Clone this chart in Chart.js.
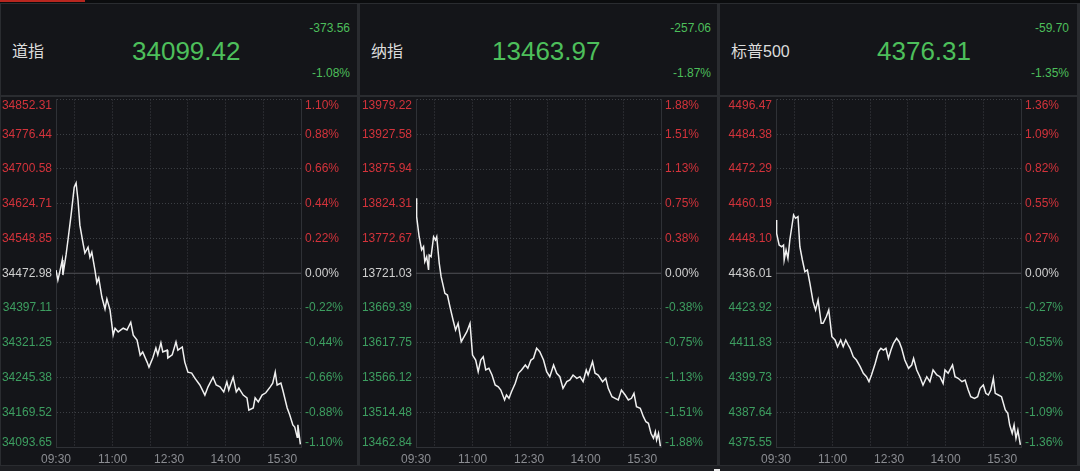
<!DOCTYPE html>
<html>
<head>
<meta charset="utf-8">
<script src="https://cdn.jsdelivr.net/npm/chart.js@4.4.0/dist/chart.umd.min.js"></script>
<style>
body { margin:0; width:1080px; height:471px; overflow:hidden; position:relative; background:#2a2c30;
       font-family:"Liberation Sans", Arial, "Noto Sans CJK SC", sans-serif; }
.strip { position:absolute; left:0; top:0; width:1080px; height:3px; background:#0b0c0e; }
.redbar { position:absolute; left:0; top:0; width:85px; height:2px; background:#b8261f; }
.bottom { position:absolute; left:0; top:466px; width:1080px; height:5px; background:#1d1e22; }
.mark { position:absolute; left:714px; top:469px; width:6px; height:2px; background:#e8e8e8; }
.box { position:absolute; background:#141519; }
.txt { position:absolute; white-space:nowrap; line-height:1; transform:translateY(-50%); }
.name { font-size:16px; color:#dcdcdc; font-family:"Liberation Sans", "Noto Sans CJK SC", sans-serif; }
.big { font-size:26px; color:#4dbf5b; }
.small { font-size:12px; color:#4dbf5b; text-align:right; }
canvas { position:absolute; }
</style>
</head>
<body>
<div class="strip"></div><div class="redbar"></div>
<div class="bottom"></div><div class="mark"></div>

<div class="box" style="left:1px;top:4px;width:356px;height:91px"></div>
<div class="box" style="left:360px;top:4px;width:357px;height:91px"></div>
<div class="box" style="left:720px;top:4px;width:357px;height:91px"></div>
<div class="box" style="left:1px;top:97px;width:356px;height:368px"></div>
<div class="box" style="left:360px;top:97px;width:357px;height:368px"></div>
<div class="box" style="left:720px;top:97px;width:357px;height:368px"></div>

<div class="txt name" style="left:12px;top:52px">道指</div>
<div class="txt big" id="dowLast" style="left:132px;top:51px"></div>
<div class="txt small" id="dowChg" style="right:730px;top:28px"></div>
<div class="txt small" id="dowPct" style="right:730px;top:73px"></div>

<div class="txt name" style="left:371px;top:52px">纳指</div>
<div class="txt big" id="nasLast" style="left:492px;top:51px"></div>
<div class="txt small" id="nasChg" style="right:369px;top:28px"></div>
<div class="txt small" id="nasPct" style="right:369px;top:73px"></div>

<div class="txt name" style="left:731px;top:52px">标普500</div>
<div class="txt big" id="spxLast" style="left:877px;top:51px"></div>
<div class="txt small" id="spxChg" style="right:11px;top:28px"></div>
<div class="txt small" id="spxPct" style="right:11px;top:73px"></div>

<canvas id="dowChart" width="356" height="367" style="left:1px;top:97px"></canvas>
<canvas id="nasChart" width="357" height="367" style="left:360px;top:97px"></canvas>
<canvas id="spxChart" width="357" height="367" style="left:720px;top:97px"></canvas>

<script>
// minutes after 09:30 open, and index level
var dowMin = [0,3,6,10,11,16,19,24,29,32,35,38,43,46,51,54,57,62,65,68,73,78,81,86,91,94,99,107,113,119,
  123,129,134,138,145,148,154,159,162,167,170,177,178,185,191,194,201,205,210,216,221,229,237,242,250,255,
  261,267,272,275,282,287,291,298,304,307,314,317,322,328,334,341,345,349,352,358,361,368,372,377,380,384,385,389];
var dowVal = [34480,34458,34476,34502,34469,34513,34545,34600,34661,34670,34633,34578,34539,34517,34530,34508,
  34519,34480,34452,34463,34421,34395,34417,34393,34338,34353,34345,34353,34349,34366,34338,34327,34294,34301,
  34279,34268,34288,34310,34295,34321,34301,34305,34288,34295,34323,34305,34312,34279,34257,34255,34244,34229,
  34207,34225,34246,34229,34225,34214,34236,34218,34246,34214,34222,34207,34201,34174,34179,34201,34192,34207,
  34212,34225,34233,34257,34229,34233,34218,34179,34164,34142,34137,34115,34142,34099.42];
var dowTicks = [34093.65,34169.52,34245.38,34321.25,34397.11,34472.98,34548.85,34624.71,34700.58,34776.44,34852.31];

var nasMin = [0,1,5,9,12,14,17,20,21,24,28,31,33,37,40,46,50,54,59,63,67,72,75,81,86,90,95,99,103,107,
  111,116,121,126,131,135,141,144,148,152,158,163,168,174,178,183,187,192,197,203,208,213,219,224,229,234,
  240,245,250,256,261,266,271,274,281,285,290,297,302,306,312,317,322,327,333,338,343,347,351,357,362,366,
  370,374,378,381,383,386,389];
var nasVal = [13832.4,13805.1,13775.3,13755.6,13760.5,13738.2,13745.6,13725.9,13748.1,13745.6,13775.3,13770.4,
  13775.3,13735.8,13715.9,13691.2,13688.7,13671.3,13651.6,13636.7,13646.6,13619.3,13624.4,13634.2,13646.6,
  13599.5,13592.1,13574.7,13592.1,13597.0,13577.3,13579.8,13569.8,13555.0,13552.4,13547.5,13532.7,13540.1,
  13535.2,13545.0,13557.5,13572.4,13577.3,13584.7,13579.8,13592.1,13594.6,13609.5,13604.5,13592.1,13574.7,
  13567.3,13584.7,13572.4,13567.3,13550.0,13559.9,13562.4,13569.8,13564.9,13567.3,13559.9,13577.3,13569.8,
  13589.6,13572.4,13569.8,13559.9,13564.9,13550.0,13537.6,13535.2,13532.7,13547.5,13540.1,13532.7,13535.2,
  13542.6,13522.7,13520.4,13507.9,13500.4,13498.0,13483.2,13475.8,13485.6,13473.2,13483.2,13463.97];
var nasTicks = [13462.84,13514.48,13566.12,13617.75,13669.39,13721.03,13772.67,13824.31,13875.94,13927.58,13979.22];

var spxMin = [0,1,5,9,12,13,16,19,22,28,31,35,38,42,46,50,54,59,63,67,72,75,80,84,89,94,98,103,107,111,
  115,118,123,128,134,139,144,148,152,158,163,167,171,175,179,183,187,192,196,200,205,211,216,219,224,229,
  234,240,245,250,256,261,266,269,274,281,285,290,296,301,306,310,316,321,325,330,334,338,342,346,349,354,
  359,365,369,372,376,379,382,385,389];
var spxVal = [4454.54,4449.91,4445.84,4445.25,4445.84,4440.62,4444.10,4441.21,4447.58,4456.28,4455.13,4455.69,
  4445.25,4440.62,4436.55,4437.14,4432.51,4426.11,4423.22,4426.70,4418.59,4418.59,4420.89,4423.22,4413.93,
  4412.78,4410.45,4412.78,4410.45,4412.78,4411.04,4409.89,4406.97,4405.82,4403.49,4401.19,4400.01,4398.27,
  4400.60,4404.67,4408.71,4409.89,4409.30,4409.89,4406.41,4409.30,4411.63,4413.37,4412.19,4409.89,4405.82,
  4402.93,4404.08,4406.41,4402.34,4400.01,4397.12,4400.01,4398.27,4402.34,4400.60,4400.01,4397.71,4402.34,
  4401.19,4404.08,4400.01,4399.45,4398.27,4398.86,4395.38,4393.05,4392.49,4393.05,4395.97,4397.12,4394.23,
  4393.64,4395.38,4399.45,4394.23,4393.64,4393.05,4388.42,4387.27,4383.20,4380.31,4383.20,4378.57,4381.46,4376.31];
var spxTicks = [4375.55,4387.64,4399.73,4411.83,4423.92,4436.01,4448.10,4460.19,4472.29,4484.38,4496.47];

var xLabels = ['09:30','11:00','12:30','14:00','15:30'];
var xGrid = ['10:00','11:00','12:00','13:00','14:00','15:00'];

var FONT = '"Liberation Sans", Arial, sans-serif';
var RED = '#d3333b', GREEN = '#3d9e60', FLAT = '#cfcfcf';
var GRID = '#3c3f44', EDGE = '#2f3136';

function toMin(s) {
    var p = s.split(':');
    return (+p[0]) * 60 + (+p[1]) - 570;
}
var labelMins = xLabels.map(toMin);
var gridMins = xGrid.map(toMin);
var xTickMins = labelMins.concat(gridMins).filter(function(v, i, a){ return a.indexOf(v) == i; })
    .sort(function(a, b){ return a - b; });

// y labels on both sides, edge labels kept inside the plot
var axisLabels = {
    id: 'axisLabels',
    afterDraw: function(chart, args, opts) {
        var c = chart.ctx, area = chart.chartArea, sy = chart.scales.y, prev = opts.prev;
        c.save();
        c.font = '12px ' + FONT;
        c.textBaseline = 'middle';
        sy.ticks.forEach(function(t) {
            var v = t.value;
            var py = Math.min(Math.max(sy.getPixelForValue(v), area.top + 6), area.bottom - 4);
            c.fillStyle = v > prev + 1e-6 ? RED : (v < prev - 1e-6 ? GREEN : FLAT);
            c.textAlign = 'right';
            c.fillText(v.toFixed(2), area.left - 4, py);
            c.textAlign = 'left';
            c.fillText(((v - prev) / prev * 100).toFixed(2) + '%', area.right + 4, py);
        });
        c.restore();
    }
};

function header(key, values, ticks) {
    var prev = ticks[5], last = values[values.length - 1];
    document.getElementById(key + 'Last').textContent = last.toFixed(2);
    document.getElementById(key + 'Chg').textContent = (last - prev).toFixed(2);
    document.getElementById(key + 'Pct').textContent = ((last - prev) / prev * 100).toFixed(2) + '%';
}

function graficar(id, times, values, ticks, leftW, rightW) {
    var prev = ticks[5];
    var pts = times.map(function(t, i){ return {x: t, y: values[i]}; });
    var setTicks = function(s){ s.ticks = ticks.map(function(v){ return {value: v}; }); };
    var ctx = document.getElementById(id).getContext('2d');
    return new Chart(ctx, {
        type: 'line',
        data: {
            datasets: [
                { data: pts, borderColor: '#f0f0f0', borderWidth: 1.5, pointRadius: 0, tension: 0, order: 1 },
                { data: [{x: 0, y: prev}, {x: 390, y: prev}], borderColor: '#505257', borderWidth: 1,
                  pointRadius: 0, order: 2 }
            ]
        },
        options: {
            responsive: false,
            animation: false,
            events: [],
            layout: { padding: { top: 2.5, left: 0, right: 0, bottom: 0 } },
            plugins: { legend: { display: false }, tooltip: { enabled: false }, axisLabels: { prev: prev } },
            scales: {
                x: {
                    type: 'linear', min: 0, max: 390,
                    afterBuildTicks: function(s){ s.ticks = xTickMins.map(function(v){ return {value: v}; }); },
                    afterFit: function(s){ s.height = 17; },
                    grid: {
                        drawTicks: false,
                        color: function(c){ return gridMins.indexOf(c.tick.value) >= 0 ? GRID : 'rgba(0,0,0,0)'; }
                    },
                    border: { display: true, color: EDGE, dash: [1, 2] },
                    ticks: {
                        autoSkip: false, maxRotation: 0, padding: 5, color: '#8b8d92',
                        font: { size: 12, family: FONT },
                        callback: function(v){ var k = labelMins.indexOf(v); return k >= 0 ? xLabels[k] : ''; }
                    }
                },
                y: {
                    position: 'left', min: ticks[0], max: ticks[ticks.length - 1],
                    afterBuildTicks: setTicks,
                    afterFit: function(s){ s.width = leftW; },
                    grid: {
                        drawTicks: false,
                        color: function(c){ return c.tick.value == prev ? 'rgba(0,0,0,0)' : GRID; }
                    },
                    border: { display: true, color: EDGE, dash: [1, 2] },
                    ticks: { display: false }
                },
                y2: {
                    position: 'right', min: ticks[0], max: ticks[ticks.length - 1],
                    afterBuildTicks: setTicks,
                    afterFit: function(s){ s.width = rightW; },
                    grid: { display: false },
                    border: { display: true, color: EDGE },
                    ticks: { display: false }
                }
            }
        },
        plugins: [axisLabels]
    });
}

header('dow', dowVal, dowTicks);
header('nas', nasVal, nasTicks);
header('spx', spxVal, spxTicks);
graficar('dowChart', dowMin, dowVal, dowTicks, 55, 56);
graficar('nasChart', nasMin, nasVal, nasTicks, 56, 56);
graficar('spxChart', spxMin, spxVal, spxTicks, 56, 56);
</script>
</body>
</html>
